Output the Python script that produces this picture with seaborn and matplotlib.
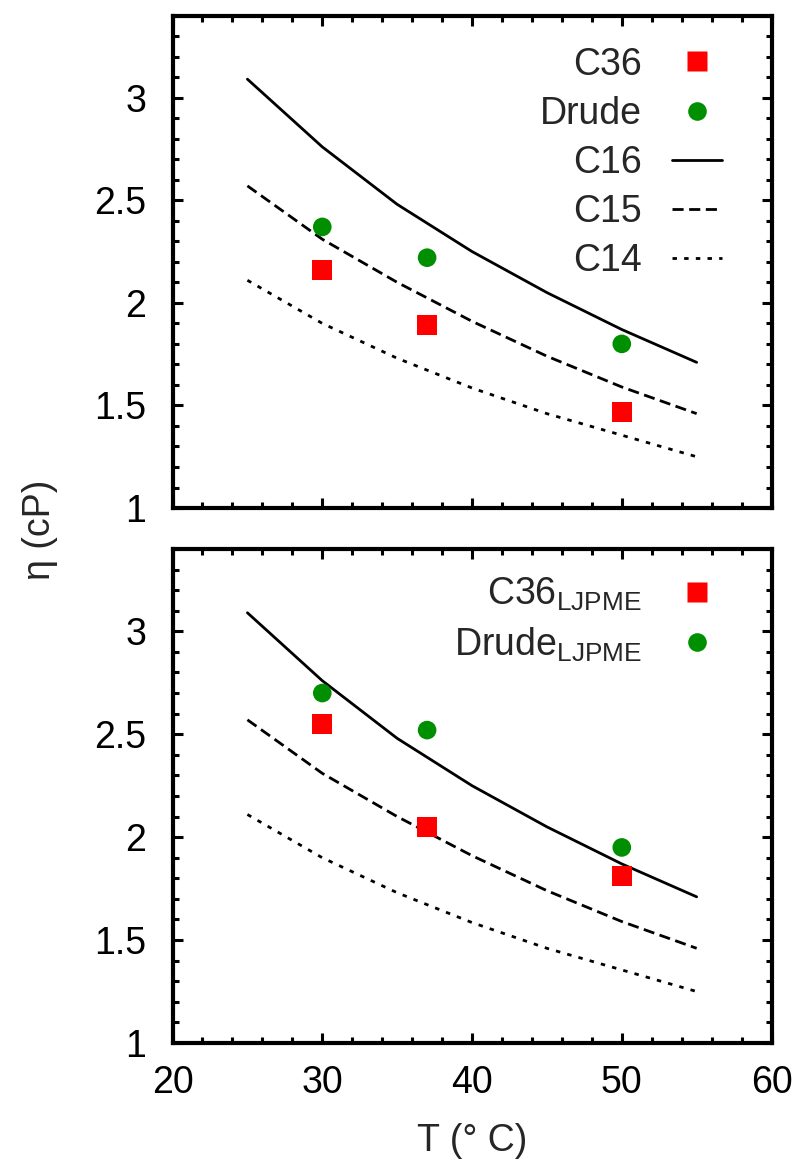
import numpy as np
import pandas as pd
import matplotlib
matplotlib.use("Agg")
import matplotlib.pyplot as plt
import seaborn as sns
from matplotlib.ticker import MultipleLocator, FuncFormatter
from matplotlib.lines import Line2D

# ---- data ----
T_curve = [25, 30, 35, 40, 45, 50, 55]
C16 = [3.09, 2.76, 2.48, 2.25, 2.05, 1.87, 1.71]
C15 = [2.57, 2.31, 2.10, 1.91, 1.74, 1.59, 1.46]
C14 = [2.11, 1.90, 1.73, 1.585, 1.46, 1.355, 1.25]

T_pts = [30, 37, 50]
C36 = [2.16, 1.89, 1.47]
Drude = [2.37, 2.22, 1.80]
C36_LJPME = [2.55, 2.05, 1.81]
Drude_LJPME = [2.70, 2.52, 1.95]

x_ticks = [20, 30, 40, 50, 60]
y_ticks = [1, 1.5, 2, 2.5, 3]

sns.set_style("ticks")
plt.rcParams['font.family'] = ['Liberation Sans', 'DejaVu Sans']
plt.rcParams['mathtext.fontset'] = 'custom'
plt.rcParams['mathtext.rm'] = 'Liberation Sans'
plt.rcParams['mathtext.it'] = 'Liberation Sans:italic'
plt.rcParams['mathtext.bf'] = 'Liberation Sans:bold'

RED = '#ff0000'
GREEN = '#008f00'
FS = 27
LW = 2.0

fig = plt.figure(figsize=(7.94, 11.69), dpi=100)
ax1 = fig.add_axes([0.2173, 0.5654, 0.7544, 0.4213])
ax2 = fig.add_axes([0.2173, 0.1078, 0.7544, 0.4226])

curves = pd.DataFrame({"T": T_curve, "C16": C16, "C15": C15, "C14": C14})
line_styles = {"C16": None, "C15": (4, 2), "C14": (1.6, 2.6)}


def draw_curves(ax):
    handles = []
    for name in ["C16", "C15", "C14"]:
        sns.lineplot(data=curves, x="T", y=name, ax=ax, color="black", lw=LW)
        ln = ax.lines[-1]
        h = Line2D([], [], color="black", lw=LW)
        if line_styles[name] is not None:
            ln.set_dashes(line_styles[name])
            h.set_dashes(line_styles[name])
        handles.append((h, name))
    return handles


def draw_points(ax, y, color, marker, size):
    df = pd.DataFrame({"T": T_pts, "v": y})
    sns.scatterplot(data=df, x="T", y="v", ax=ax, color=color, marker=marker,
                    s=size, edgecolor="none", linewidth=0, zorder=5)


def style_axis(ax, show_x):
    ax.set_xlim(20, 60)
    ax.set_ylim(1, 3.4)
    ax.set_xticks(x_ticks)
    ax.set_yticks(y_ticks)
    ax.xaxis.set_minor_locator(MultipleLocator(2))
    ax.yaxis.set_minor_locator(MultipleLocator(0.1))
    ax.yaxis.set_major_formatter(FuncFormatter(lambda v, p: "%g" % v))
    ax.tick_params(which="both", direction="in", top=True, right=True,
                   width=2.2, labelsize=FS, colors="black")
    ax.tick_params(which="major", length=7)
    ax.tick_params(which="minor", length=4)
    ax.tick_params(axis="y", which="major", pad=19)
    ax.tick_params(axis="x", which="major", pad=16)
    if not show_x:
        ax.tick_params(labelbottom=False)
    for sp in ax.spines.values():
        sp.set_linewidth(3)
        sp.set_color("black")
        sp.set_visible(True)
    ax.set_xlabel("")
    ax.set_ylabel("")


sq_size = 205
ci_size = 180
MS_SQ = 14.3
MS_CI = 13.4

# top panel
h_top = draw_curves(ax1)
draw_points(ax1, C36, RED, "s", sq_size)
draw_points(ax1, Drude, GREEN, "o", ci_size)
style_axis(ax1, False)
hs = [Line2D([], [], ls="none", marker="s", color=RED, markersize=MS_SQ, mec="none"),
      Line2D([], [], ls="none", marker="o", color=GREEN, markersize=MS_CI, mec="none")]
labels = ["C36", "Drude"]
for h, n in h_top:
    hs.append(h)
    labels.append(n)
ax1.legend(hs, labels, loc="upper right", frameon=False, markerfirst=False,
           fontsize=FS, handlelength=1.35, labelspacing=0.35,
           handletextpad=0.8, borderaxespad=0.0, borderpad=0.0,
           bbox_to_anchor=(0.918, 0.937))

# bottom panel
draw_curves(ax2)
draw_points(ax2, C36_LJPME, RED, "s", sq_size)
draw_points(ax2, Drude_LJPME, GREEN, "o", ci_size)
style_axis(ax2, True)
hs2 = [Line2D([], [], ls="none", marker="s", color=RED, markersize=MS_SQ, mec="none"),
       Line2D([], [], ls="none", marker="o", color=GREEN, markersize=MS_CI, mec="none")]
ax2.legend(hs2, [r"C36$_{\mathrm{LJPME}}$", r"Drude$_{\mathrm{LJPME}}$"],
           loc="upper right", frameon=False, markerfirst=False,
           fontsize=FS, handlelength=1.35, labelspacing=0.32,
           handletextpad=0.8, borderaxespad=0.0, borderpad=0.0,
           bbox_to_anchor=(0.918, 0.945))

ax2.set_xlabel("T (° C)", fontsize=FS, labelpad=16)
fig.text(0.05, 0.547, "η (cP)", rotation=90, fontsize=FS, ha="center", va="center")

fig.savefig("out.png", dpi=100)
